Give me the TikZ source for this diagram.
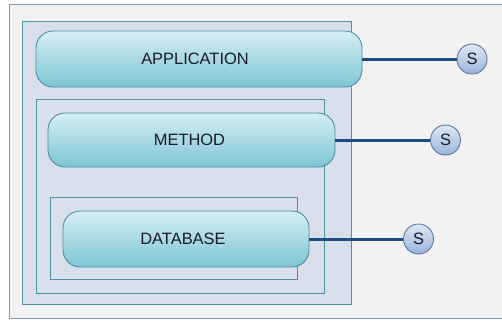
\documentclass[tikz,border=0pt]{standalone}
\usepackage{fontspec}
\setmainfont{Liberation Sans}
\definecolor{bgfill}{HTML}{F2F2F2}
\definecolor{bgdraw}{HTML}{7F96B8}
\definecolor{boxfill}{HTML}{D8DFEA}
\definecolor{boxdraw}{HTML}{4F93A3}
\definecolor{pilltop}{HTML}{D6EEF3}
\definecolor{pillbot}{HTML}{7DC5D5}
\definecolor{pilldraw}{HTML}{4A90A2}
\definecolor{stop}{HTML}{E0E9F5}
\definecolor{sbot}{HTML}{9AB3DA}
\definecolor{sdraw}{HTML}{5B78A6}
\definecolor{linkcol}{HTML}{1F4C80}
\definecolor{txt}{HTML}{1A1A2A}
\tikzset{
  pill/.style={draw=pilldraw, line width=0.9bp, rounded corners=17bp, top color=pilltop, bottom color=pillbot, text=txt, font=\fontsize{16.5}{18}\selectfont, inner sep=0pt},
  framebox/.style={draw=boxdraw, line width=0.9bp, fill=boxfill},
  snode/.style={circle, draw=sdraw, line width=0.9bp, top color=stop, bottom color=sbot, minimum size=30bp, inner sep=0pt, text=txt, font=\fontsize{16.5}{18}\selectfont},
  link/.style={draw=linkcol, line width=3bp}
}
\begin{document}
\begin{tikzpicture}[x=1bp,y=-1bp]
\useasboundingbox (0,0) rectangle (502,320);
\fill[white] (0,0) rectangle (502,320);
\draw[draw=bgdraw, fill=bgfill, line width=1bp] (9.5,4.5) rectangle (506,318.5);
\draw[framebox] (22.7,21) rectangle (351.5,304);
\draw[framebox] (36.7,99.3) rectangle (324,293.3);
\draw[framebox] (50,197.7) rectangle (297.3,279.3);
\node[snode] (s1) at (472,59) {S};
\node[snode] (s2) at (445.5,140) {S};
\node[snode] (s3) at (418.5,239) {S};
\node[pill, minimum width=326bp, minimum height=56bp] (app) at (199,59) {APPLICATION\hspace*{8bp}};
\node[pill, minimum width=287bp, minimum height=54bp] (meth) at (191.5,140) {METHOD\hspace*{4bp}};
\node[pill, minimum width=246bp, minimum height=56bp] (db) at (186,239) {DATABASE\hspace*{6bp}};
\draw[link] (app.east) -- (s1.west);
\draw[link] (meth.east) -- (s2.west);
\draw[link] (db.east) -- (s3.west);
\end{tikzpicture}
\end{document}
